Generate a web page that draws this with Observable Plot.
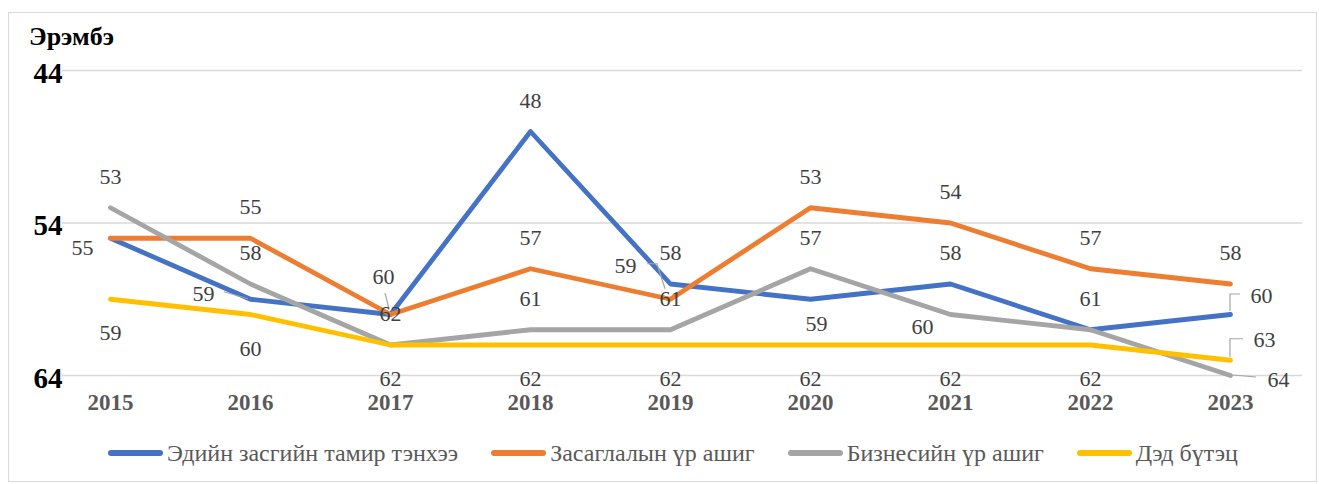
<!DOCTYPE html>
<html><head><meta charset="utf-8">
<script src="https://cdn.jsdelivr.net/npm/d3@7"></script>
<script src="https://cdn.jsdelivr.net/npm/@observablehq/plot@0.6"></script>
<style>
body{margin:0;background:#fff;}
#wrap{position:relative;width:1319px;height:484px;font-family:"Liberation Serif","Times New Roman",serif;overflow:hidden;}
#frame{position:absolute;left:8px;top:12px;width:1309px;height:470px;border:1px solid #d9d9d9;box-sizing:border-box;}
#title{position:absolute;left:29px;top:24px;font-weight:bold;font-size:26px;line-height:1;color:#000;}
#chart{position:absolute;left:0;top:0;}
#legend{position:absolute;left:108px;top:441px;display:flex;gap:33px;font-size:24px;line-height:24px;color:#595959;}
.item{display:flex;align-items:center;}
.sw{width:55px;height:6px;border-radius:3px;margin-right:4px;}
</style></head>
<body>
<div id="wrap">
  <div id="frame"></div>
  <div id="chart"></div>
  <div id="title">Эрэмбэ</div>
  <div id="legend"></div>
</div>
<script>
// ---- data ----
const years = [2015, 2016, 2017, 2018, 2019, 2020, 2021, 2022, 2023];
const seriesNames = ["Эдийн засгийн тамир тэнхээ", "Засаглалын үр ашиг", "Бизнесийн үр ашиг", "Дэд бүтэц"];
const economic = [55, 59, 60, 48, 58, 59, 58, 61, 60];
const governance = [55, 55, 60, 57, 59, 53, 54, 57, 58];
const business = [53, 58, 62, 61, 61, 57, 60, 61, 64];
const infrastructure = [59, 60, 62, 62, 62, 62, 62, 62, 63];
const yTicks = [44, 54, 64];
const yTitle = "Эрэмбэ";

// ---- styles ----
const colors = ["#4472C4", "#ED7D31", "#A5A5A5", "#FFC000"];
// label placement codes per series (style, not data)
const placements = [
  ["L", "LL", "-", "A", "A", "B2", "A", "A", "R1"],
  ["-", "A", "UL", "A", "LU", "A", "A", "A", "A"],
  ["A", "A", "A", "A", "A", "A", "LB", "-", "R3"],
  ["B", "B", "B", "B", "B", "B", "B", "B", "R2"]
];
const offsets = {
  A: [0, -31], B: [0, 34], L: [-28, 10], LL: [-47, -5], B2: [6, 25],
  UL: [-7, -38], LU: [-45, -33], LB: [-28, 12],
  R1: [31, -19], R2: [34, -20], R3: [48, 4]
};
const leaders = {
  LL: [[-26, -7], [-2, 0]],
  UL: [[-5, -21], [-1, -5]],
  LU: [[-23, -35], [-13, -35], [-5, -10]],
  R1: [[0, -3], [0, -20], [10, -20]],
  R2: [[0, -3], [0, -21], [13, -21]],
  R3: [[3, 0], [26, 2]]
};

document.getElementById("title").textContent = yTitle;

const allValues = [economic, governance, business, infrastructure];
const rows = [];
seriesNames.forEach((s, si) => {
  years.forEach((yr, i) => {
    rows.push({series: s, year: yr, value: allValues[si][i], pos: placements[si][i]});
  });
});

const labelMarks = Object.keys(offsets).map(code => Plot.text(rows.filter(d => d.pos === code), {
  x: "year", y: "value", text: d => String(d.value),
  dx: offsets[code][0], dy: offsets[code][1],
  fontSize: 22, fill: "#404040", lineAnchor: "middle"
}));

const leaderMark = (index, scales) => {
  const g = d3.create("svg:g").attr("fill", "none").attr("stroke", "#A5A5A5").attr("stroke-width", 1.2);
  const sx = scales.x, sy = scales.y;
  rows.filter(d => leaders[d.pos]).forEach(d => {
    const px = sx(d.year), py = sy(d.value);
    g.append("path").attr("d", d3.line()(leaders[d.pos].map(([a, b]) => [px + a, py + b])));
  });
  return g.node();
};

const plot = Plot.plot({
  width: 1319,
  height: 420,
  marginLeft: 62,
  marginRight: 17,
  marginTop: 70,
  marginBottom: 45,
  style: {fontFamily: "'Liberation Serif','Times New Roman',serif", background: "transparent"},
  x: {type: "point", domain: years, range: [38, 1302], padding: 0.5, axis: null},
  y: {domain: [44, 64], reverse: true, axis: null},
  color: {domain: seriesNames, range: colors},
  marks: [
    Plot.gridY(yTicks, {stroke: "#d9d9d9", strokeOpacity: 1, strokeWidth: 1.3}),
    Plot.text(yTicks, {y: d => d, text: d => String(d), frameAnchor: "left", textAnchor: "end", dy: 3,
      fontSize: 29, fontWeight: "bold", fill: "#000", lineAnchor: "middle"}),
    Plot.text(years, {x: d => d, text: d => String(d), frameAnchor: "bottom", dy: 27,
      fontSize: 23, fontWeight: "bold", fill: "#595959", lineAnchor: "middle"}),
    Plot.line(rows, {x: "year", y: "value", z: "series", stroke: "series",
      strokeWidth: 4.8, strokeLinejoin: "round", strokeLinecap: "round"}),
    leaderMark,
    ...labelMarks
  ]
});
document.getElementById("chart").append(plot);

const legend = document.getElementById("legend");
seriesNames.forEach((s, i) => {
  const item = document.createElement("div");
  item.className = "item";
  const sw = document.createElement("span");
  sw.className = "sw";
  sw.style.background = colors[i];
  const t = document.createElement("span");
  t.textContent = s;
  item.append(sw, t);
  legend.append(item);
});
</script>
</body></html>
